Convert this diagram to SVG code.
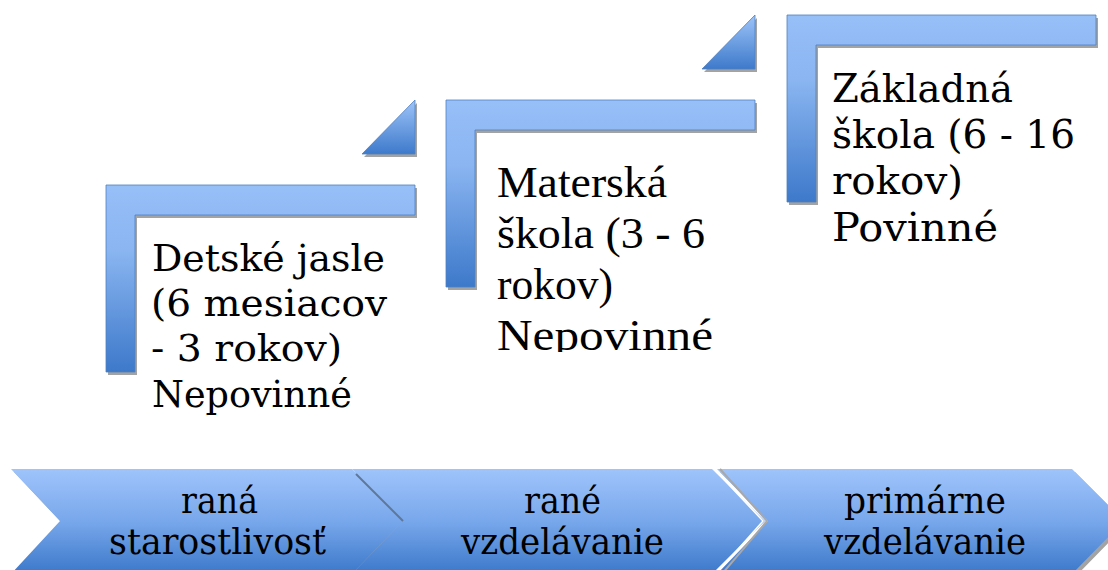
<svg xmlns="http://www.w3.org/2000/svg" width="1108" height="570" viewBox="0 0 1108 570">
<defs>
<linearGradient id="gL" x1="0" y1="0" x2="0" y2="1">
<stop offset="0" stop-color="#97bff8"/>
<stop offset="0.35" stop-color="#8ab5f1"/>
<stop offset="1" stop-color="#3d79ca"/>
</linearGradient>
<linearGradient id="gT" x1="0" y1="0" x2="0" y2="1">
<stop offset="0" stop-color="#9ec4f9"/>
<stop offset="1" stop-color="#3e7acb"/>
</linearGradient>
<linearGradient id="gC" gradientUnits="userSpaceOnUse" x1="0" y1="469" x2="0" y2="574">
<stop offset="0" stop-color="#9fc4fb"/>
<stop offset="0.5" stop-color="#78a7eb"/>
<stop offset="1" stop-color="#3b78ca"/>
</linearGradient>
<clipPath id="clipM"><rect x="480" y="150" width="300" height="202"/></clipPath>
<style>
.shape{fill:url(#gL);stroke:#4f80c0;stroke-width:0.8}
.tri{fill:url(#gT);stroke:#4f80c0;stroke-width:0.8}
.sh{fill:#a3a3a3}
.chev{fill:url(#gC)}
.cav{font-family:"DejaVu Serif","Liberation Serif",serif;fill:#000}
.tnr{font-family:"Liberation Serif","Times New Roman",serif;fill:#000}
</style>
</defs>
<rect width="1108" height="570" fill="#ffffff"/>

<g id="node-jasle">
<path class="sh" d="M108,188 H417 V218 H137 V375 H108 Z"/>
<path class="sh" d="M364,157 L417,103 V157 Z"/>
<path class="shape" d="M106,185 H415 V215 H135 V372 H106 Z"/>
<path class="tri" d="M362,154 L415,100 V154 Z"/>
<g class="cav" font-size="38">
<text x="152" y="271" textLength="233" lengthAdjust="spacingAndGlyphs">Detské jasle</text>
<text x="151" y="316" textLength="236" lengthAdjust="spacingAndGlyphs">(6 mesiacov</text>
<text x="151" y="361" textLength="191" lengthAdjust="spacingAndGlyphs">- 3 rokov)</text>
<text x="152" y="407" textLength="200" lengthAdjust="spacingAndGlyphs">Nepovinné</text>
</g>
</g>

<g id="node-materska">
<path class="sh" d="M448,103 H757 V133 H477 V290 H448 Z"/>
<path class="sh" d="M704,72 L757,18 V72 Z"/>
<path class="shape" d="M446,100 H755 V130 H475 V287 H446 Z"/>
<path class="tri" d="M702,69 L755,15 V69 Z"/>
<g class="tnr" font-family="Liberation Serif, serif" font-size="45" clip-path="url(#clipM)">
<text x="497" y="197" textLength="170" lengthAdjust="spacingAndGlyphs">Materská</text>
<text x="497" y="248" textLength="208" lengthAdjust="spacingAndGlyphs">škola (3 - 6</text>
<text x="497" y="299" textLength="116" lengthAdjust="spacingAndGlyphs">rokov)</text>
<text x="497" y="350" textLength="216" lengthAdjust="spacingAndGlyphs">Nepovinné</text>
</g>
</g>

<g id="node-zakladna">
<path class="sh" d="M789,18 H1098 V48 H818 V205 H789 Z"/>
<path class="shape" d="M787,15 H1096 V45 H816 V202 H787 Z"/>
<g class="cav" font-size="40">
<text x="832" y="102" textLength="181" lengthAdjust="spacingAndGlyphs">Základná</text>
<text x="832" y="148" textLength="243" lengthAdjust="spacingAndGlyphs">škola (6 - 16</text>
<text x="832" y="194" textLength="131" lengthAdjust="spacingAndGlyphs">rokov)</text>
<text x="832" y="241" textLength="166" lengthAdjust="spacingAndGlyphs">Povinné</text>
</g>
</g>

<g id="chevrons">
<path class="sh" d="M14,472 L355,472 L406,524 L355,577 L14,577 L63,524 Z"/>
<path class="sh" d="M720,472 L1075,472 L1127,524 L1075,577 L720,577 L771,524 Z"/>
<g id="node-rana">
<path class="chev" d="M11,469 L352,469 L403,521 L352,574 L11,574 L60,521 Z"/>
</g>
<g id="node-rane">
<path class="chev" d="M352,469 L712,469 L765,521 L712,574 L352,574 L403,521 Z"/>
</g>
<g id="node-primarne">
<path class="chev" d="M717,469 L1072,469 L1124,521 L1072,574 L717,574 L768,521 Z"/>
</g>
</g>

<g id="connectors" fill="none">
<line x1="356" y1="474" x2="403" y2="521" stroke="#5f7898" stroke-width="2"/>
<polyline points="714,469 763,521 716,574" stroke="#ffffff" stroke-width="1.5"/>
<polyline points="720,469 767,521 722,574" stroke="#a8a8a8" stroke-width="2"/>
</g>

<g class="cav" font-size="35">
<text x="181" y="513" textLength="77" lengthAdjust="spacingAndGlyphs">raná</text>
<text x="109" y="554" textLength="217" lengthAdjust="spacingAndGlyphs">starostlivosť</text>
<text x="524" y="513" textLength="77" lengthAdjust="spacingAndGlyphs">rané</text>
<text x="461" y="554" textLength="203" lengthAdjust="spacingAndGlyphs">vzdelávanie</text>
<text x="844" y="513" textLength="162" lengthAdjust="spacingAndGlyphs">primárne</text>
<text x="824" y="554" textLength="202" lengthAdjust="spacingAndGlyphs">vzdelávanie</text>
</g>
</svg>
